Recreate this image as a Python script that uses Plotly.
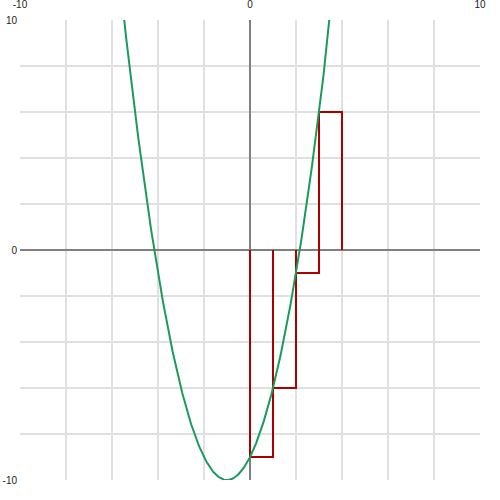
import numpy as np
import plotly.graph_objects as go

# Parabola coefficients y = a*x^2 + b*x + c
coef_a, coef_b, coef_c = 1.0, 2.0, -9.0
x_range = [-10, 10]
y_range = [-10, 10]

# Left Riemann rectangles
rect_left = [0, 1, 2, 3]
rect_width = [1, 1, 1, 1]
rect_height = [-9, -6, -1, 6]

grid_vals = list(range(-10, 11, 2))
label_vals = [-10, 0, 10]
tick_text = [str(v) if v in label_vals else "" for v in grid_vals]

xs = np.linspace(-10, 10, 801)
ys = coef_a * xs**2 + coef_b * xs + coef_c

fig = go.Figure()
for x0, w, h in zip(rect_left, rect_width, rect_height):
    fig.add_trace(go.Scatter(
        x=[x0, x0, x0 + w, x0 + w],
        y=[0, h, h, 0],
        mode="lines", line=dict(color="#aa0000", width=2),
        hoverinfo="skip", showlegend=False))
fig.add_trace(go.Scatter(x=xs, y=ys, mode="lines",
                         line=dict(color="#1a9a5e", width=2),
                         showlegend=False))

axis_common = dict(
    tickvals=grid_vals, ticktext=tick_text,
    showgrid=True, gridcolor="#e0e0e0", gridwidth=2,
    zeroline=True, zerolinecolor="#808080", zerolinewidth=2,
    showline=False, ticks="", automargin=False,
    tickfont=dict(family="Liberation Sans, Arial", size=10, color="#222"),
    fixedrange=True,
)
fig.update_xaxes(range=x_range, side="top", ticklabelstandoff=9, **axis_common)
fig.update_yaxes(range=y_range, ticklabelstandoff=2, **axis_common)
fig.update_layout(
    width=500, height=500,
    margin=dict(l=20, r=20, t=20, b=20),
    paper_bgcolor="white", plot_bgcolor="white",
)
fig.write_html("out.html", config={"displayModeBar": False},
               post_script="document.body.style.margin='0';document.body.style.overflow='hidden';")
